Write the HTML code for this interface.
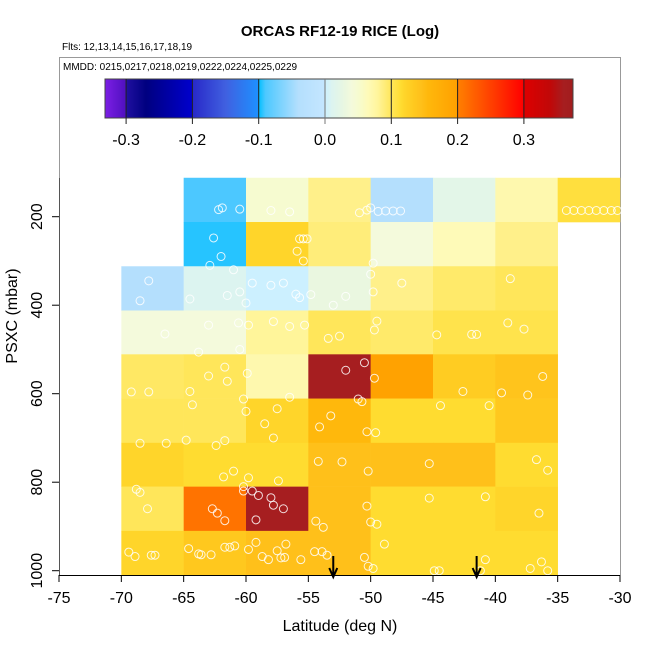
<!DOCTYPE html>
<html><head><meta charset="utf-8"><style>
body{margin:0;background:#fff;}
svg text{font-family:"Liberation Sans",sans-serif;}
</style></head><body>
<svg id="c" width="650" height="650" xmlns="http://www.w3.org/2000/svg">
<text x="340" y="36" text-anchor="middle" font-size="15" font-weight="bold">ORCAS RF12-19 RICE (Log)</text>
<text x="62" y="50" font-size="10">Flts: 12,13,14,15,16,17,18,19</text>
<path d="M59.5,575 V57.5 H620.5 V575" fill="none" stroke="#999" stroke-width="1"/>
<text x="63" y="70" font-size="10">MMDD: 0215,0217,0218,0219,0222,0224,0225,0229</text>
<g id="cbar"></g>
<g id="cells"></g>
<g id="pts"></g>
<g id="axes"></g>
<text x="340" y="631" text-anchor="middle" font-size="16">Latitude (deg N)</text>
<text transform="translate(17,316) rotate(-90)" text-anchor="middle" font-size="16">PSXC (mbar)</text>
</svg>
<script>
const latEdges=[-70,-65,-60,-55,-50,-45,-40,-35,-30];
const presEdges=[112,212,312,412,511,611,711,810,910,1010];
const row1=[null,-0.09,0.05,0.085,-0.04,0.02,0.07,0.11];
const row2=[null,-0.095,0.12,0.09,0.04,0.065,0.085,null];
const row3=[-0.04,0.01,0.0,0.03,0.085,0.095,0.1,null];
const row4=[0.04,0.04,0.08,0.1,0.095,0.105,0.105,null];
const row5=[0.097,0.1,0.07,0.36,0.195,0.13,0.14,null];
const row6=[0.1,0.1,0.12,0.155,0.115,0.115,0.135,null];
const row7=[0.12,0.115,0.115,0.145,0.145,0.145,0.115,null];
const row8=[0.1,0.21,0.36,0.145,0.115,0.115,0.12,null];
const row9=[0.12,0.135,0.145,0.145,0.115,0.115,0.115,null];
const rows=[row1,row2,row3,row4,row5,row6,row7,row8,row9];
const xTicks=[-75,-70,-65,-60,-55,-50,-45,-40,-35,-30];
const yTicks=[200,400,600,800,1000];
const cTicks=[-0.3,-0.2,-0.1,0.0,0.1,0.2,0.3];
const ptLat=[-62.2,-61.9,-60.5,-58,-56.5,-50.9,-50.3,-50,-49.4,-48.8,-48.2,-47.6,-34.3,-33.7,-33.1,-32.5,-31.9,-31.3,-30.7,-30.2,
-62.6,-55.7,-55.4,-55.1,-55.9,-62.9,-49.8,-50,-61,-55.4,-62,
-67.8,-68.5,-64.5,-61.5,-60.5,-59.5,-58,-57,-56,-55.7,-54.8,-53,-52,-49.8,-47.5,-38.8,-60,
-66.5,-63,-60.6,-59.8,-57.8,-56.5,-55.3,-53.4,-52.5,-49.5,-49.7,-44.7,-41.9,-41.5,-37.7,-39,-60.5,
-69.2,-67.8,-63.8,-64.5,-61.7,-59.9,-61.5,-52,-50.5,-49.7,-51,-50.7,-42.6,-36.2,-37.4,-63,
-68.5,-64.3,-60.2,-60,-57.5,-58.5,-57.8,-56.5,-54.1,-53.2,-50.3,-49.6,-44.4,-40.5,-39.5,-61.7,
-66.4,-64.8,-62.4,-61.8,-61,-59.8,-57.4,-54.2,-52.3,-50.2,-45.3,-35.8,-36.7,
-68.8,-68.5,-67.9,-62.7,-62.3,-61.7,-60.2,-60.2,-59.5,-59,-58,-57.8,-57,-59.2,-54.4,-53.8,-50.3,-50,-49.5,-45.3,-40.8,-36.5,
-69.4,-68.9,-67.6,-67.3,-64.6,-63.8,-63.6,-62.8,-61.7,-61.3,-60.9,-59.8,-59.2,-58.7,-58.2,-57.2,-56.9,-55.6,-53.5,-53.9,-54.5,-50.5,-50.2,-49.8,-48.9,-44.9,-44.5,-41.2,-40.8,-37.2,-36.3,-35.8,-57.5,-56.8];
const ptPres=[184,180,183,186,189,191,185,180,188,187,187,187,186,186,186,186,186,186,186,186,
248,250,250,250,278,310,305,330,320,300,290,
345,390,386,378,370,350,355,350,375,383,376,400,380,370,350,340,395,
465,445,440,445,437,448,445,475,470,436,456,467,466,466,454,440,500,
596,596,506,595,540,554,572,547,530,565,612,618,595,561,603,560,
712,625,612,640,634,668,700,608,675,650,686,688,627,627,598,706,
712,705,717,788,775,790,797,753,754,775,758,773,749,
816,823,860,860,870,887,810,820,820,830,835,852,860,885,888,902,854,890,895,836,833,870,
958,968,965,965,950,962,964,964,947,947,944,952,936,968,975,971,970,975,965,957,957,970,990,995,940,1000,1000,1000,975,995,980,1000,955,940];
const arrowLat=[-53,-41.5];

const NS="http://www.w3.org/2000/svg";
const X=v=>59+(v+75)*(561/45);
const Y=p=>216.7+(p-200)*0.4425;
const CX=v=>325+v*663;
const stops=[[-0.335,'#8020e8'],[-0.301,'#5010c0'],[-0.3,'#2010a0'],[-0.27,'#000080'],[-0.201,'#0000cc'],[-0.2,'#2828c8'],[-0.15,'#4060e0'],[-0.101,'#1e90ff'],[-0.1,'#00bfff'],[-0.09,'#4cc8ff'],[-0.04,'#b4dffd'],[-0.001,'#c4e6ff'],[0,'#ccf0ff'],[0.01,'#dcf4f0'],[0.03,'#eaf7e0'],[0.04,'#f4fadc'],[0.05,'#f6fbd0'],[0.065,'#fefab8'],[0.08,'#fff59a'],[0.085,'#fff08a'],[0.095,'#ffea6a'],[0.1,'#ffe65a'],[0.115,'#ffdc30'],[0.12,'#ffd52a'],[0.135,'#ffc81e'],[0.145,'#ffc01a'],[0.155,'#ffb80c'],[0.199,'#ffa000'],[0.2,'#ff8000'],[0.25,'#ff4000'],[0.299,'#ff0000'],[0.3,'#dd0000'],[0.34,'#c00808'],[0.36,'#a61e20'],[0.38,'#a01c1c']];
function hex(h){return [1,3,5].map(i=>parseInt(h.substr(i,2),16));}
function cmap(v){
  if(v<=stops[0][0])return stops[0][1];
  for(let i=1;i<stops.length;i++){if(v<=stops[i][0]){const a=hex(stops[i-1][1]),b=hex(stops[i][1]);const t=(v-stops[i-1][0])/(stops[i][0]-stops[i-1][0]);return 'rgb('+a.map((c,k)=>Math.round(c+(b[k]-c)*t)).join(',')+')';}}
  return stops[stops.length-1][1];
}
function mk(tag,attrs,parent){const e=document.createElementNS(NS,tag);for(const k in attrs)e.setAttribute(k,attrs[k]);parent.appendChild(e);return e;}

const cb=document.getElementById('cbar');
for(let x=105;x<573;x++){
  const r=mk('rect',{x:x,y:79,width:1.2,height:39,fill:cmap((x+0.5-325)/663)},cb);
  
  
}
const cbo=mk('rect',{x:105,y:79,width:468,height:39,fill:'none',stroke:'#444','stroke-width':1},cb);


cTicks.forEach(t=>{
  const l=mk('line',{x1:CX(t),x2:CX(t),y1:79,y2:124,stroke:t===0?'#777':'#222','stroke-width':1},cb);
  
  
  const tx=mk('text',{x:CX(t),y:145,'text-anchor':'middle','font-size':16},cb);
  tx.textContent=t.toFixed(1);
  
  
});

const cg=document.getElementById('cells');
rows.forEach((row,ri)=>{row.forEach((v,ci)=>{
  if(v===null)return;
  const x0=X(latEdges[ci]),x1=X(latEdges[ci+1]),y0=Y(presEdges[ri]),y1=Y(presEdges[ri+1]);
  const r=mk('rect',{x:x0,y:y0,width:x1-x0+0.3,height:y1-y0+0.3,fill:cmap(v)},cg);
  
  
});});

const pg=document.getElementById('pts');
ptLat.forEach((la,i)=>{
  const c=mk('circle',{cx:X(la),cy:Y(ptPres[i]),r:4,fill:'none',stroke:'#fff','stroke-opacity':0.85,'stroke-width':1},pg);
  
  
});

const ag=document.getElementById('axes');
mk('line',{x1:59,x2:620,y1:575.5,y2:575.5,stroke:'#000'},ag);
mk('line',{x1:59.5,x2:59.5,y1:178,y2:575,stroke:'#555'},ag);
xTicks.forEach(t=>{
  const l=mk('line',{x1:X(t),x2:X(t),y1:575,y2:582,stroke:'#000'},ag);
  
  
  const tx=mk('text',{x:X(t),y:603,'text-anchor':'middle','font-size':16},ag);
  tx.textContent=t;
  
  
});
yTicks.forEach(t=>{
  const l=mk('line',{x1:52,x2:59,y1:Y(t),y2:Y(t),stroke:'#000'},ag);
  
  
  const tx=mk('text',{transform:'translate(42,'+Y(t)+') rotate(-90)','text-anchor':'middle','font-size':16},ag);
  tx.textContent=t;
  
  
});
arrowLat.forEach(a=>{
  const g=mk('path',{d:'M'+X(a)+',556 V576 M'+(X(a)-4)+',568 L'+X(a)+',577 L'+(X(a)+4)+',568',fill:'none',stroke:'#000','stroke-width':2},ag);
  
  
});
</script>
</body></html>
